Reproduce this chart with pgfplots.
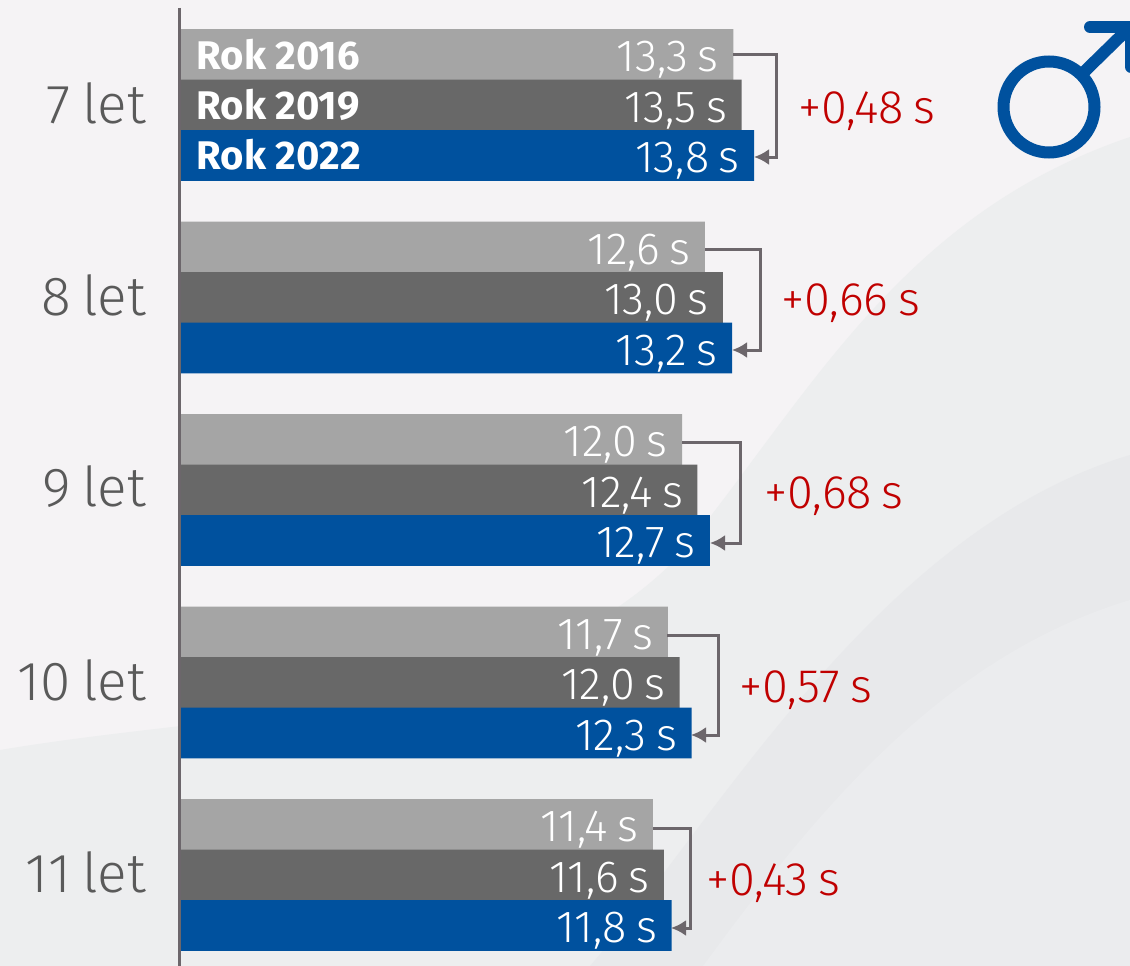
\documentclass[border=0pt]{standalone}
\usepackage{pgfplots}
\pgfplotsset{compat=1.18}
\usetikzlibrary{arrows.meta}
\usepackage{fontspec}
\setmainfont{Fira Sans}
\newfontfamily\lightf[WordSpace=0.75]{Fira Sans Light}
\definecolor{bgA}{HTML}{F5F3F5}
\definecolor{bgB}{HTML}{EDEEEF}
\definecolor{bgC}{HTML}{E8E9EB}
\definecolor{bgD}{HTML}{EBECEE}
\definecolor{g1}{HTML}{A5A5A5}
\definecolor{g2}{HTML}{686868}
\definecolor{b1}{HTML}{00519E}
\definecolor{br}{HTML}{6C666B}
\definecolor{rd}{HTML}{C00000}
\definecolor{txt}{HTML}{5A5A5A}
\pgfplotstableread{
y x lab
54.5 13.3 {13,3 s}
247 12.62 {12,6 s}
439.5 12.07 {12,0 s}
632 11.73 {11,7 s}
824.5 11.37 {11,4 s}
}\tA
\pgfplotstableread{
y x lab
105 13.5 {13,5 s}
297.5 13.05 {13,0 s}
490 12.44 {12,4 s}
682.5 12.01 {12,0 s}
875 11.63 {11,6 s}
}\tB
\pgfplotstableread{
y x lab
155.5 13.8 {13,8 s}
348 13.27 {13,2 s}
540.5 12.74 {12,7 s}
733 12.3 {12,3 s}
925.5 11.82 {11,8 s}
}\tC
\begin{document}
\begin{tikzpicture}
\begin{axis}[name=deco,at={(0,0)},anchor=south west,scale only axis,width=1130pt,height=966pt,
  xmin=0,xmax=1130,ymin=0,ymax=966,y dir=reverse,hide axis]
\fill[bgA] (axis cs:0,0) rectangle (axis cs:1130,966);
\fill[bgB] (axis cs:0,750) .. controls (axis cs:250,708) and (axis cs:520,720) .. (axis cs:680,555)
  .. controls (axis cs:810,395) and (axis cs:900,215) .. (axis cs:1130,137) -- (axis cs:1130,966) -- (axis cs:0,966) -- cycle;
\fill[bgC] (axis cs:590,966) .. controls (axis cs:720,815) and (axis cs:880,530) .. (axis cs:1130,455) -- (axis cs:1130,966) -- cycle;
\fill[bgD] (axis cs:703,966) .. controls (axis cs:800,835) and (axis cs:930,660) .. (axis cs:1130,600) -- (axis cs:1130,966) -- cycle;
% male symbol
\draw[b1,line width=12pt] (axis cs:1049,107) circle[radius=45.5pt];
\addplot[b1,line width=12pt,no markers] coordinates {(1085,71) (1130,27)};
\addplot[b1,line width=12pt,line cap=round,line join=round,no markers] coordinates {(1090,27) (1131,27) (1131,67)};
\end{axis}
\begin{axis}[at={(0,0)},anchor=south west,scale only axis,width=1130pt,height=966pt,
  xmin=-4.327,xmax=22.837,ymin=0,ymax=966,y dir=reverse,hide axis,
  xbar,bar shift=0pt,bar width=50.7,clip=true,
  nodes near coords,point meta=explicit symbolic,
  every node near coord/.append style={anchor=east,text=white,font=\lightf\fontsize{45}{45}\selectfont,xshift=-11pt,yshift=-5.5pt}]
\addplot[fill=g1,draw=none] table[x=x,y=y,meta=lab]{\tA};
\addplot[fill=g2,draw=none] table[x=x,y=y,meta=lab]{\tB};
\addplot[fill=b1,draw=none] table[x=x,y=y,meta=lab]{\tC};
\end{axis}
\begin{axis}[at={(0,0)},anchor=south west,scale only axis,width=1130pt,height=966pt,
  xmin=0,xmax=1130,ymin=0,ymax=966,y dir=reverse,hide axis]
\addplot[br,line width=3pt,no markers] coordinates {(179.6,8) (179.6,966)};
\addplot[br,line width=3pt,no markers,-{Latex[length=15pt,width=16pt]}] coordinates {(733,55) (776,55) (776,157) (754,157)};
\addplot[br,line width=3pt,no markers,-{Latex[length=15pt,width=16pt]}] coordinates {(705,249) (760,249) (760,350) (732,350)};
\addplot[br,line width=3pt,no markers,-{Latex[length=15pt,width=16pt]}] coordinates {(682,442) (740,442) (740,543) (710,543)};
\addplot[br,line width=3pt,no markers,-{Latex[length=15pt,width=16pt]}] coordinates {(667,635) (718,635) (718,735) (691,735)};
\addplot[br,line width=3pt,no markers,-{Latex[length=15pt,width=16pt]}] coordinates {(653,828) (690,828) (690,928) (671,928)};
\begin{scope}[every node/.style={anchor=east,inner sep=0pt,text=txt,font=\lightf\fontsize{55}{55}\selectfont}]
\node at (axis cs:146,103) {7 let};
\node at (axis cs:146,295) {8 let};
\node at (axis cs:146,487) {9 let};
\node at (axis cs:146,680) {10 let};
\node at (axis cs:146,872) {11 let};
\end{scope}
\begin{scope}[every node/.style={anchor=west,inner sep=0pt,text=rd,font=\lightf\fontsize{47}{47}\selectfont}]
\node at (axis cs:798,111) {+0,48 s};
\node at (axis cs:781,303) {+0,66 s};
\node at (axis cs:764,496) {+0,68 s};
\node at (axis cs:739,690) {+0,57 s};
\node at (axis cs:706,883) {+0,43 s};
\end{scope}
\begin{scope}[every node/.style={anchor=west,inner sep=0pt,text=white,font=\bfseries\fontsize{40}{40}\selectfont}]
\node at (axis cs:196.5,55) {Rok 2016};
\node at (axis cs:196.5,105) {Rok 2019};
\node at (axis cs:196.5,155) {Rok 2022};
\end{scope}
\end{axis}
\end{tikzpicture}
\end{document}
